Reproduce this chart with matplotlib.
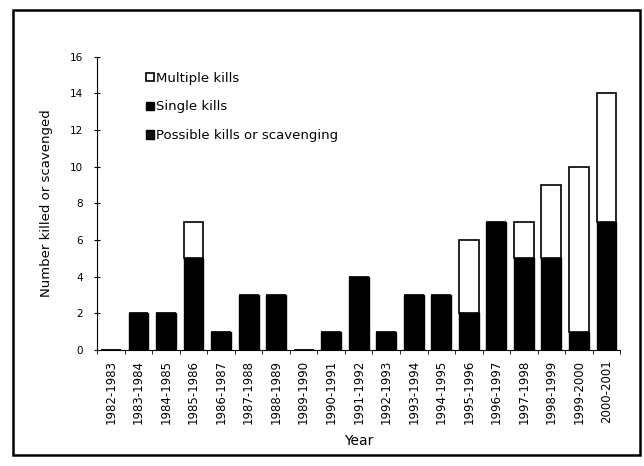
import matplotlib
matplotlib.use('Agg')
import matplotlib.pyplot as plt
import numpy as np
from matplotlib.patches import Rectangle

plt.rcParams['font.family'] = ['DejaVu Sans']

# Данные
years = ['1982-1983', '1983-1984', '1984-1985', '1985-1986', '1986-1987',
         '1987-1988', '1988-1989', '1989-1990', '1990-1991', '1991-1992',
         '1992-1993', '1993-1994', '1994-1995', '1995-1996', '1996-1997',
         '1997-1998', '1998-1999', '1999-2000', '2000-2001']
possible_kills = [0, 0, 0, 0, 0, 0, 0, 0, 0, 0, 0, 0, 0, 0, 0, 0, 0, 0, 0]
single_kills = [0, 2, 2, 5, 1, 3, 3, 0, 1, 4, 1, 3, 3, 2, 7, 5, 5, 1, 7]
multiple_kills = [0, 0, 0, 2, 0, 0, 0, 0, 0, 0, 0, 0, 0, 4, 0, 2, 4, 9, 7]

x = np.arange(len(years))
possible = np.array(possible_kills)
single = np.array(single_kills)
multiple = np.array(multiple_kills)

fig = plt.figure(figsize=(6.44, 4.66), dpi=100)
ax = fig.add_axes([0.151, 0.249, 0.812, 0.629])

w = 0.72
ax.bar(x, possible, w, color='#111111', edgecolor='black', linewidth=1,
       label='Possible kills or scavenging')
ax.bar(x, single, w, bottom=possible, color='black', edgecolor='black',
       linewidth=1, label='Single kills')
ax.bar(x, multiple, w, bottom=possible + single, color='white',
       edgecolor='black', linewidth=1.2, label='Multiple kills')

ax.set_xlim(-0.5, len(years) - 0.5)
ax.set_ylim(0, 16)
ax.set_yticks(np.arange(0, 17, 2))
ax.tick_params(axis='y', direction='inout', length=5, labelsize=7.5, pad=8)
ax.set_xticks(x)
ax.set_xticklabels(years, rotation=90, fontsize=8.5)
ax.tick_params(axis='x', length=0, pad=7)
ax.set_xticks(np.arange(-0.5, len(years), 1), minor=True)
ax.tick_params(axis='x', which='minor', direction='out', length=3)
ax.spines['top'].set_visible(False)
ax.spines['right'].set_visible(False)

ax.set_xlabel('Year', fontsize=10, labelpad=7)
ax.set_ylabel('Number killed or scavenged', fontsize=9.5, labelpad=12)

handles, labels = ax.get_legend_handles_labels()
ax.legend(handles[::-1], labels[::-1], loc='upper left',
          bbox_to_anchor=(0.07, 0.99), frameon=False, fontsize=9.5,
          handlelength=0.6, handleheight=0.6, handletextpad=0.2,
          labelspacing=1.2)

# рамка вокруг всего рисунка
fig.patches.append(Rectangle((0.02, 0.024), 0.974, 0.954,
                             transform=fig.transFigure, fill=False,
                             edgecolor='black', linewidth=1.8))

fig.savefig('out.png', dpi=100)
